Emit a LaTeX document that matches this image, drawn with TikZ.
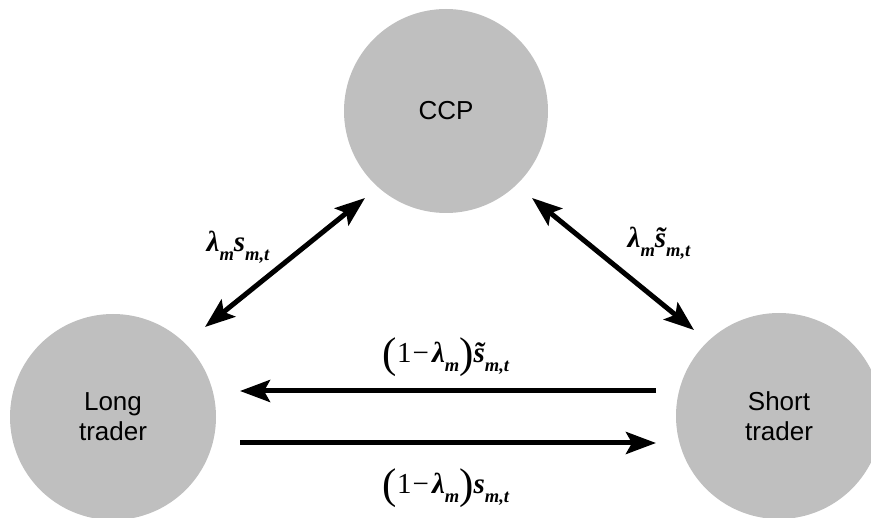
\documentclass[tikz,border=0pt]{standalone}
\usepackage{fontspec}
\newfontfamily\arial{Liberation Sans}
\newfontfamily\tbi{Liberation Serif}
\usetikzlibrary{arrows.meta}
\newcommand\bi{\tbi\bfseries\itshape}
\newcommand\sbs[1]{\raisebox{-0.32em}{\fontsize{18.5}{18.5}\selectfont\bi #1}}
\newcommand\bigp[1]{\raisebox{-0.17em}{\fontsize{43}{43}\selectfont\tbi\mdseries\upshape #1}}
\begin{document}
\begin{tikzpicture}[x=1pt,y=-1pt,
  party/.style={circle,fill=black!25,draw=none,font=\arial\fontsize{26}{30}\selectfont,align=center,inner sep=0pt},
  flow/.style={line width=5pt,{Stealth[length=30pt,width=22pt,inset=6pt]}-{Stealth[length=30pt,width=22pt,inset=6pt]}},
  oneway/.style={line width=5pt,-{Stealth[length=30pt,width=22pt,inset=6pt]}},
  lab/.style={font=\bi\fontsize{29}{33}\selectfont,inner sep=0pt}]
\useasboundingbox (0,0) rectangle (871,518);
\node[party,minimum size=204pt] (ccp) at (446,111) {CCP};
\node[party,minimum size=206pt] (long) at (113,417) {Long\\trader};
\node[party,minimum size=206pt] (short) at (779,416) {Short\\trader};
\coordinate (l1) at (205,327);
\coordinate (l2) at (365,198);
\coordinate (r1) at (532,198);
\coordinate (r2) at (694,330);
\coordinate (t1) at (656,391);
\coordinate (t2) at (240,391);
\coordinate (b1) at (240,443);
\coordinate (b2) at (656,443);
\draw[flow] (l1) -- (l2);
\draw[flow] (r1) -- (r2);
\draw[oneway] (t1) -- (t2);
\draw[oneway] (b1) -- (b2);
\node[lab] (labl) at (238,247) {λ\sbs{m}s\sbs{m,t}};
\node[lab] (labr) at (659,243) {λ\sbs{m}s̃\sbs{m,t}};
\node[lab] (labt) at (446,357) {\bigp{(}{\tbi\mdseries\upshape 1\kern1pt−\kern3pt}λ\sbs{m}\bigp{)}s̃\sbs{m,t}};
\node[lab] (labb) at (446,488) {\bigp{(}{\tbi\mdseries\upshape 1\kern1pt−\kern3pt}λ\sbs{m}\bigp{)}s\sbs{m,t}};
\end{tikzpicture}
\end{document}
